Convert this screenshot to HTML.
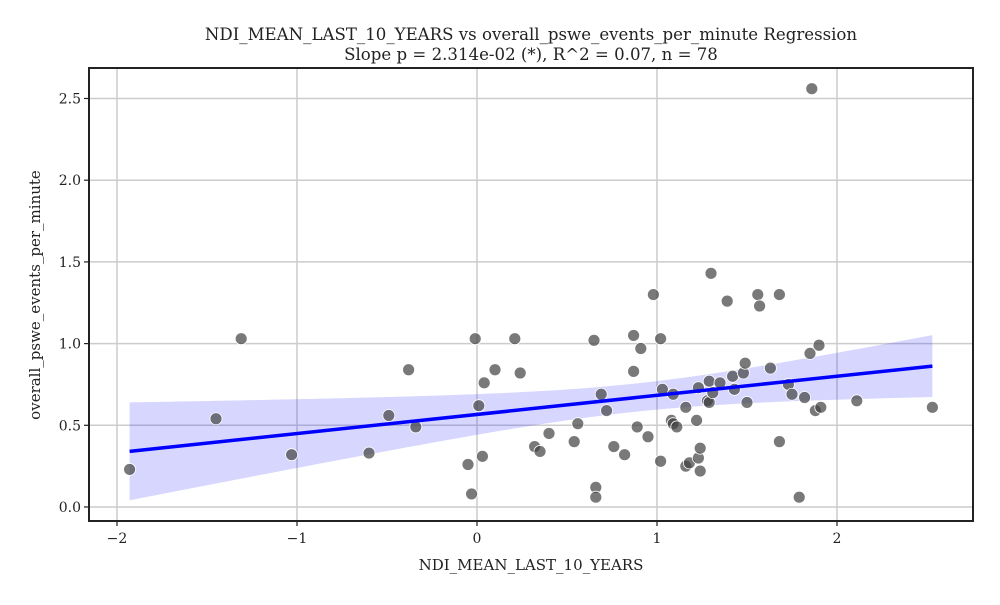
<!DOCTYPE html>
<html><head><meta charset="utf-8"><style>
html,body{margin:0;padding:0;background:#fff;}
svg text{font-family:"DejaVu Serif","Liberation Serif",serif;fill:#222;}
</style></head><body>
<svg id="chart" width="1000" height="600" xmlns="http://www.w3.org/2000/svg">
<rect width="1000" height="600" fill="#fff"/>
<g id="grid"></g>
<g id="band"></g>
<g id="points"></g>
<g id="line"></g>
<g id="axes"></g>
<text x="531" y="40" text-anchor="middle" font-size="16.6">NDI_MEAN_LAST_10_YEARS vs overall_pswe_events_per_minute Regression</text>
<text x="531" y="60" text-anchor="middle" font-size="16.6">Slope p = 2.314e-02 (*), R^2 = 0.07, n = 78</text>
<text x="531" y="570" text-anchor="middle" font-size="15">NDI_MEAN_LAST_10_YEARS</text>
<text transform="translate(40,295) rotate(-90)" text-anchor="middle" font-size="15">overall_pswe_events_per_minute</text>
</svg>
<script>
const xVals=[-1.93,-1.45,-1.31,-1.03,-0.60,-0.49,-0.38,-0.34,-0.05,-0.03,-0.01,0.01,0.03,0.04,0.10,0.21,0.24,0.32,0.35,0.40,0.54,0.56,0.65,0.66,0.66,0.69,0.72,0.76,0.82,0.87,0.87,0.89,0.91,0.95,0.98,1.02,1.02,1.03,1.08,1.09,1.09,1.11,1.16,1.16,1.18,1.22,1.23,1.23,1.24,1.24,1.28,1.29,1.29,1.30,1.31,1.35,1.39,1.42,1.43,1.48,1.49,1.50,1.56,1.57,1.63,1.68,1.68,1.73,1.75,1.79,1.82,1.85,1.86,1.88,1.90,1.91,2.11,2.53];
const yVals=[0.23,0.54,1.03,0.32,0.33,0.56,0.84,0.49,0.26,0.08,1.03,0.62,0.31,0.76,0.84,1.03,0.82,0.37,0.34,0.45,0.40,0.51,1.02,0.12,0.06,0.69,0.59,0.37,0.32,1.05,0.83,0.49,0.97,0.43,1.30,0.28,1.03,0.72,0.53,0.51,0.69,0.49,0.25,0.61,0.27,0.53,0.73,0.30,0.36,0.22,0.65,0.77,0.64,1.43,0.70,0.76,1.26,0.80,0.72,0.82,0.88,0.64,1.30,1.23,0.85,1.30,0.40,0.75,0.69,0.06,0.67,0.94,2.56,0.59,0.99,0.61,0.65,0.61];
const xTicks=[-2,-1,0,1,2];
const yTicks=[0,0.5,1,1.5,2,2.5];
const xTickLabels=["\u22122","\u22121","0","1","2"];
const yTickLabels=["0.0","0.5","1.0","1.5","2.0","2.5"];
const L=89,R=973,T=68,B=521;
const X=v=>477+v*180;
const Y=v=>507-v*163.4;
const NS="http://www.w3.org/2000/svg";
function mk(parent,tag,attrs){const e=document.createElementNS(NS,tag);for(const k in attrs)e.setAttribute(k,attrs[k]);document.getElementById(parent).appendChild(e);return e;}
xTicks.forEach((t,i)=>{
  const g=mk('grid','line',{x1:X(t),x2:X(t),y1:T,y2:B,stroke:'#cccccc','stroke-width':1.5});
  
  
  const tk=mk('axes','line',{x1:X(t),x2:X(t),y1:B,y2:B+5,stroke:'#222','stroke-width':1.2});
  
  
  const tx=mk('axes','text',{x:X(t),y:B+22,'text-anchor':'middle','font-size':14});
  tx.textContent=xTickLabels[i];
  
  
});
yTicks.forEach((t,i)=>{
  const g=mk('grid','line',{x1:L,x2:R,y1:Y(t),y2:Y(t),stroke:'#cccccc','stroke-width':1.5});
  
  
  const tk=mk('axes','line',{x1:L-5,x2:L,y1:Y(t),y2:Y(t),stroke:'#222','stroke-width':1.2});
  
  
  const tx=mk('axes','text',{x:L-8,y:Y(t)+5,'text-anchor':'end','font-size':14});
  tx.textContent=yTickLabels[i];
  
  
});
const fr=mk('axes','rect',{x:L,y:T,width:R-L,height:B-T,fill:'none',stroke:'#222','stroke-width':2});


const n=xVals.length;
const mx=xVals.reduce((a,b)=>a+b,0)/n, my=yVals.reduce((a,b)=>a+b,0)/n;
let sxx=0,sxy=0;for(let i=0;i<n;i++){sxx+=(xVals[i]-mx)**2;sxy+=(xVals[i]-mx)*(yVals[i]-my);}
const b1=sxy/sxx,b0=my-b1*mx;
let sse=0;for(let i=0;i<n;i++)sse+=(yVals[i]-b0-b1*xVals[i])**2;
const s=Math.sqrt(sse/(n-2));
const xmin=Math.min(...xVals),xmax=Math.max(...xVals);
const up=[],lo=[];
for(let k=0;k<=100;k++){const xv=xmin+(xmax-xmin)*k/100;const yh=b0+b1*xv;const se=s*Math.sqrt(1/n+(xv-mx)**2/sxx)*2.05;
up.push(X(xv)+','+Y(yh+se));lo.unshift(X(xv)+','+Y(yh-se));}
const band=mk('band','polygon',{points:up.concat(lo).join(' '),fill:'#0000ff','fill-opacity':0.16,stroke:'none'});


for(let i=0;i<n;i++){
  const c=mk('points','circle',{cx:X(xVals[i]),cy:Y(yVals[i]),r:6,fill:'#404040','fill-opacity':0.7,stroke:'#fff','stroke-width':0.8});
  
  
}
const ln=mk('line','line',{x1:X(xmin),y1:Y(b0+b1*xmin),x2:X(xmax),y2:Y(b0+b1*xmax),stroke:'#0000ff','stroke-width':3.5});


</script>
</body></html>
